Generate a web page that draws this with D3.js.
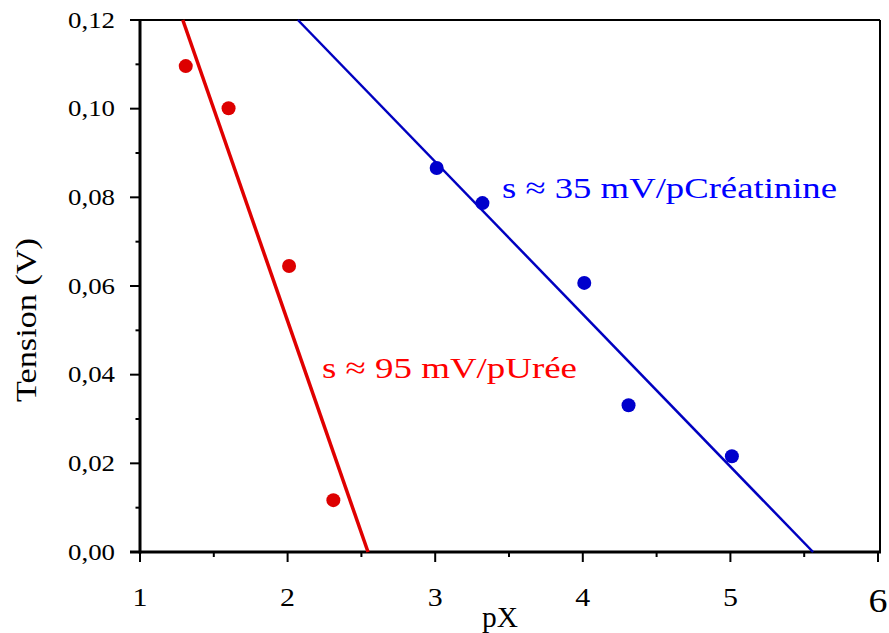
<!DOCTYPE html>
<html><head><meta charset="utf-8">
<script src="https://cdn.jsdelivr.net/npm/d3@7"></script>
</head><body style="margin:0;background:#fff">
<svg id="c" width="889" height="633" style="display:block"></svg>
<script>
const ureaX = [1.31, 1.60, 2.01, 2.31];
const ureaY = [0.1096, 0.1001, 0.0645, 0.0117];
const creaX = [3.01, 3.32, 4.01, 4.31, 5.01];
const creaY = [0.0866, 0.0787, 0.0607, 0.0331, 0.0216];
const ureaFitX = [1.29, 2.545];
const ureaFitY = [0.12, 0.0];
const creaFitX = [2.07, 5.56];
const creaFitY = [0.12, 0.0];
const xTicks = [1, 2, 3, 4, 5, 6];
const xMinor = [1.5, 2.5, 3.5, 4.5, 5.5];
const yTicks = [0, 0.02, 0.04, 0.06, 0.08, 0.10, 0.12];
const yMinor = [0.01, 0.03, 0.05, 0.07, 0.09, 0.11];
const yTickLabels = ["0,00","0,02","0,04","0,06","0,08","0,10","0,12"];

const FONT = '"Liberation Serif", monospace';
const svg = d3.select("#c");
const x = d3.scaleLinear().domain([1, 6]).range([140, 878]);
const y = d3.scaleLinear().domain([0, 0.12]).range([552, 20]);

// frame top & right
svg.append("line").attr("x1", 140).attr("x2", 880).attr("y1", 20).attr("y2", 20).attr("stroke", "#000").attr("stroke-width", 2);
svg.append("line").attr("x1", 880).attr("x2", 880).attr("y1", 20).attr("y2", 552).attr("stroke", "#000").attr("stroke-width", 2);

// y axis
const yAxis = svg.append("g");
yAxis.append("line").attr("x1", 140).attr("x2", 140).attr("y1", 19).attr("y2", 553.5).attr("stroke", "#000").attr("stroke-width", 3);
yAxis.selectAll("line.maj").data(yTicks).enter().append("line").attr("class","maj")
  .attr("x1", 130).attr("x2", 140).attr("y1", d => y(d)).attr("y2", d => y(d)).attr("stroke", "#000").attr("stroke-width", 2);
yAxis.selectAll("line.min").data(yMinor).enter().append("line").attr("class","min")
  .attr("x1", 135.5).attr("x2", 140).attr("y1", d => y(d)).attr("y2", d => y(d)).attr("stroke", "#000").attr("stroke-width", 2);
yAxis.selectAll("text").data(yTicks).enter().append("text")
  .style("font-family", FONT).style("font-size", "23px")
  .attr("x", 115).attr("y", d => y(d) + 7.5).attr("text-anchor", "end")
  .attr("textLength", 47).attr("lengthAdjust", "spacingAndGlyphs")
  .text((d, i) => yTickLabels[i]);

// x axis
const xAxis = svg.append("g");
xAxis.append("line").attr("x1", 130).attr("x2", 881).attr("y1", 552).attr("y2", 552).attr("stroke", "#000").attr("stroke-width", 3);
xAxis.selectAll("line.maj").data(xTicks).enter().append("line").attr("class","maj")
  .attr("x1", d => x(d)).attr("x2", d => x(d)).attr("y1", 552).attr("y2", 562).attr("stroke", "#000").attr("stroke-width", 2);
xAxis.selectAll("line.min").data(xMinor).enter().append("line").attr("class","min")
  .attr("x1", d => x(d)).attr("x2", d => x(d)).attr("y1", 552).attr("y2", 557).attr("stroke", "#000").attr("stroke-width", 2);
xAxis.selectAll("text").data(xTicks).enter().append("text")
  .style("font-family", FONT).style("font-size", d => (d === 6 ? 33 : 26) + "px")
  .attr("x", d => x(d)).attr("y", d => d === 6 ? 612 : 606).attr("text-anchor", "middle")
  .attr("transform", d => `translate(${x(d)},0) scale(1.15,1) translate(${-x(d)},0)`)
  .text(d => d);

// axis titles
svg.append("text").style("font-family", FONT).style("font-size", "30px").attr("x", 482).attr("y", 627)
  .attr("textLength", 36).attr("lengthAdjust", "spacingAndGlyphs").text("pX");
svg.append("text").style("font-family", FONT).style("font-size", "30px")
  .attr("transform", "translate(36,320) rotate(-90)").attr("text-anchor", "middle")
  .attr("textLength", 164).attr("lengthAdjust", "spacingAndGlyphs").text("Tension (V)");

// fit lines
const line = d3.line().x(d => x(d[0])).y(d => y(d[1]));
svg.append("path").datum(ureaFitX.map((v, i) => [v, ureaFitY[i]])).attr("d", line)
  .attr("fill", "none").attr("stroke", "#e00000").attr("stroke-width", 3.5);
svg.append("path").datum(creaFitX.map((v, i) => [v, creaFitY[i]])).attr("d", line)
  .attr("fill", "none").attr("stroke", "#0000c0").attr("stroke-width", 2.5);

// points
svg.selectAll("circle.u").data(ureaX).enter().append("circle").attr("class","u")
  .attr("cx", d => x(d)).attr("cy", (d, i) => y(ureaY[i])).attr("r", 7).attr("fill", "#dd0000");
svg.selectAll("circle.c").data(creaX).enter().append("circle").attr("class","c")
  .attr("cx", d => x(d)).attr("cy", (d, i) => y(creaY[i])).attr("r", 7).attr("fill", "#0000cc");

// annotations
svg.append("text").style("font-family", FONT).style("font-size", "30px").attr("x", 502).attr("y", 198).attr("fill", "#0000ff")
  .attr("textLength", 335).attr("lengthAdjust", "spacingAndGlyphs").text("s ≈ 35 mV/pCréatinine");
svg.append("text").style("font-family", FONT).style("font-size", "30px").attr("x", 322).attr("y", 378).attr("fill", "#ff0000")
  .attr("textLength", 255).attr("lengthAdjust", "spacingAndGlyphs").text("s ≈ 95 mV/pUrée");
</script>
</body></html>
